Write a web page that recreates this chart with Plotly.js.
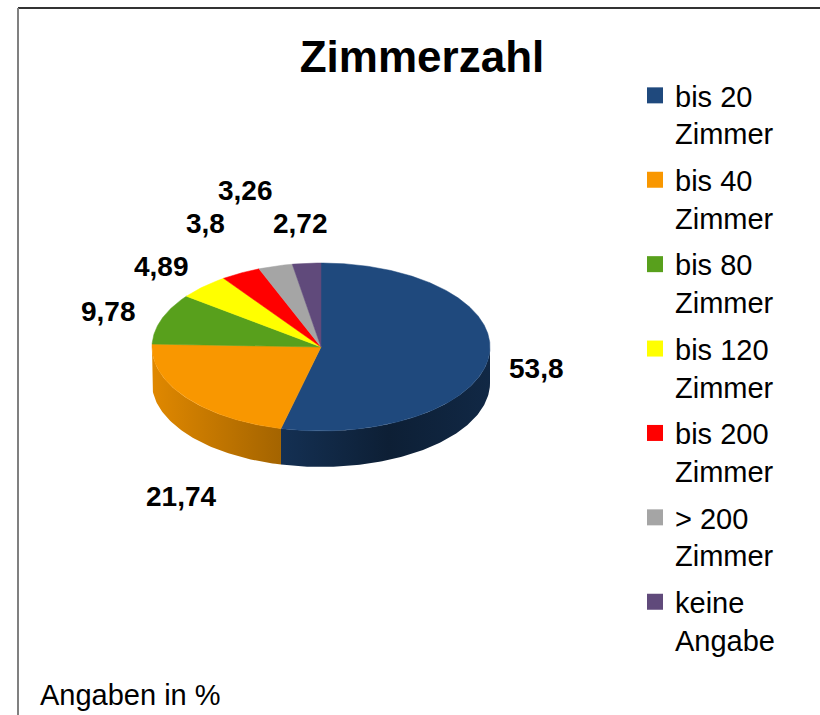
<!DOCTYPE html>
<html>
<head>
<meta charset="utf-8">
<script src="https://cdn.plot.ly/plotly-3.0.1.min.js"></script>
<style>html,body{margin:0;padding:0;background:#fff;}#chart{width:820px;height:715px;}</style>
</head>
<body>
<div id="chart"></div>
<script>
// ---- data ----
const categories = ['bis 20 Zimmer', 'bis 40 Zimmer', 'bis 80 Zimmer', 'bis 120 Zimmer', 'bis 200 Zimmer', '> 200 Zimmer', 'keine Angabe'];
const legendLabels = ['bis 20<br>Zimmer', 'bis 40<br>Zimmer', 'bis 80<br>Zimmer', 'bis 120<br>Zimmer', 'bis 200<br>Zimmer', '> 200<br>Zimmer', 'keine<br>Angabe'];
const values = [53.8, 21.74, 9.78, 4.89, 3.8, 3.26, 2.72];
const colors = ['#1F497D', '#F99700', '#58A01C', '#FFFF00', '#FF0000', '#A5A5A5', '#604A7B'];
const chartTitle = 'Zimmerzahl';
const footNote = 'Angaben in %';

// ---- geometry / style (not data) ----
const W = 820, H = 715;
const cx = 321, cy = 347, rx = 169, ry = 84, depth = 36;
const labelRx = rx + 40, labelRy = ry + 40;
const labelNudge = [[8, 7], [27, 75], [-16, 6], [-14, 9], [-16, -14], [-19, -37], [-3, 0]];
const FONT = 'Liberation Sans, Arial, sans-serif';

function rad(d) { return d * Math.PI / 180; }
function px(t) { return cx + rx * Math.sin(rad(t)); }
function py(t) { return cy - ry * Math.cos(rad(t)); }
function shade(hex, f) {
  const n = parseInt(hex.slice(1), 16);
  const r = Math.round(((n >> 16) & 255) * f), g = Math.round(((n >> 8) & 255) * f), b = Math.round((n & 255) * f);
  return 'rgb(' + r + ',' + g + ',' + b + ')';
}

const total = values.reduce((a, b) => a + b, 0);
const starts = [], ends = [];
let acc = 0;
values.forEach(v => { starts.push(acc / total * 360); acc += v; ends.push(acc / total * 360); });

const traces = [];
// side (rim) faces, only the front half (90..270 deg) is visible
values.forEach((v, i) => {
  const a = Math.max(starts[i], 90), b = Math.min(ends[i], 270);
  if (b <= a) return;
  const xs = [], ys = [];
  const n = Math.max(2, Math.ceil(b - a));
  for (let k = 0; k <= n; k++) { const t = a + (b - a) * k / n; xs.push(px(t)); ys.push(py(t)); }
  for (let k = n; k >= 0; k--) { const t = a + (b - a) * k / n; xs.push(px(t)); ys.push(py(t) + depth); }
  traces.push({
    type: 'scatter', x: xs, y: ys, mode: 'lines', fill: 'toself',
    line: { width: 0, color: shade(colors[i], 0.6) },
    fillcolor: shade(colors[i], 0.6),
    fillgradient: {
      type: 'horizontal', start: cx - rx, stop: cx + rx,
      colorscale: [[0, shade(colors[i], 0.9)], [0.38, shade(colors[i], 0.66)], [0.7, shade(colors[i], 0.42)], [1, shade(colors[i], 0.55)]]
    },
    showlegend: false, hoverinfo: 'skip', legendgroup: 'g' + i
  });
});
// top faces
values.forEach((v, i) => {
  const a = starts[i], b = ends[i];
  const xs = [cx], ys = [cy];
  const n = Math.max(2, Math.ceil((b - a) * 2));
  for (let k = 0; k <= n; k++) { const t = a + (b - a) * k / n; xs.push(px(t)); ys.push(py(t)); }
  xs.push(cx); ys.push(cy);
  traces.push({
    type: 'scatter', x: xs, y: ys, mode: 'lines', fill: 'toself',
    line: { width: 0.5, color: colors[i] }, fillcolor: colors[i],
    showlegend: false, hoverinfo: 'skip', legendgroup: 'g' + i
  });
});
// legend entries
categories.forEach((c, i) => {
  traces.push({
    type: 'scatter', x: [null], y: [null], mode: 'markers', name: legendLabels[i],
    marker: { symbol: 'square', size: 17, color: colors[i] },
    showlegend: true, hoverinfo: 'skip', legendgroup: 'g' + i
  });
});

// data labels
const annotations = values.map((v, i) => {
  const mid = (starts[i] + ends[i]) / 2;
  return {
    xref: 'x', yref: 'y',
    x: cx + labelRx * Math.sin(rad(mid)) + labelNudge[i][0],
    y: cy - labelRy * Math.cos(rad(mid)) + labelNudge[i][1],
    text: String(v).replace('.', ','), showarrow: false,
    xanchor: 'center', yanchor: 'middle',
    font: { family: FONT, size: 28, color: '#000', weight: 'bold' }
  };
});
annotations.push({
  xref: 'x', yref: 'y', x: 38, y: 695, xanchor: 'left', yanchor: 'middle',
  text: footNote, showarrow: false, font: { family: FONT, size: 29, color: '#000' }
});

const layout = {
  width: W, height: H,
  margin: { l: 0, r: 0, t: 0, b: 0 },
  paper_bgcolor: '#fff', plot_bgcolor: '#fff',
  xaxis: { range: [0, W], visible: false, fixedrange: true },
  yaxis: { range: [H, 0], visible: false, fixedrange: true },
  title: {
    text: chartTitle, x: 422 / W, xanchor: 'center', y: 1 - 57 / H, yanchor: 'middle',
    font: { family: FONT, size: 44, color: '#000', weight: 'bold' }
  },
  showlegend: true,
  legend: {
    x: 635 / W, xanchor: 'left', y: 1 - 70 / H, yanchor: 'top',
    font: { family: FONT, size: 29, color: '#000' },
    valign: 'top', itemsizing: 'trace', tracegroupgap: 6,
    bgcolor: 'rgba(0,0,0,0)', borderwidth: 0
  },
  shapes: [
    { type: 'line', xref: 'x', yref: 'y', x0: 18, x1: W, y0: 8, y1: 8, line: { color: '#333', width: 2 } },
    { type: 'line', xref: 'x', yref: 'y', x0: 18, x1: 18, y0: 8, y1: H, line: { color: '#808080', width: 2 } }
  ],
  annotations: annotations
};

Plotly.newPlot('chart', traces, layout, { staticPlot: true, displayModeBar: false });
</script>
</body>
</html>
